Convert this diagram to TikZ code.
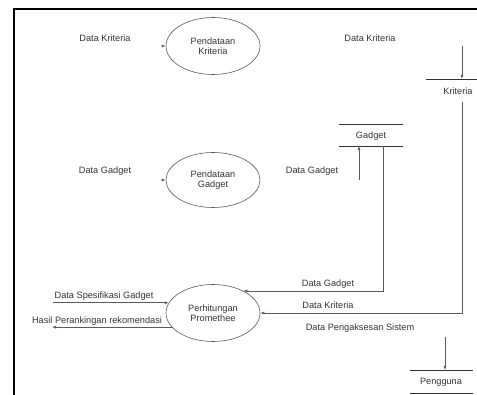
\documentclass[tikz,border=0pt]{standalone}
\usepackage{fontspec}
\setmainfont{Liberation Sans}
\usetikzlibrary{arrows.meta,shapes.geometric}
\definecolor{inkgray}{HTML}{333333}
\definecolor{linegray}{HTML}{5A5A5A}
\begin{document}
\begin{tikzpicture}[x=1pt,y=-1pt,
  every node/.style={font=\fontsize{9.2}{10.5}\selectfont, text=inkgray, inner sep=0pt},
  proc/.style={draw=linegray, line width=0.6pt, ellipse, minimum width=94pt, minimum height=57pt, align=center},
  flow/.style={draw=linegray, line width=0.6pt, -{Latex[length=4pt,width=3pt]}},
  storeline/.style={draw=inkgray, line width=0.6pt},
  lbl/.style={}]
\useasboundingbox (0,0) rectangle (477,395);
% outer frame (left and top edges)
\draw[line width=2pt, black] (14,395) -- (14,9) -- (477,9);

% processes
\node[proc] (p1) at (213,46) {Pendataan\\Kriteria};
\node[proc, minimum height=55pt] (p2) at (213,180) {Pendataan\\Gadget};
\node[proc] (p3) at (213,313) {Perhitungan\\Promethee};

% data stores
\node (kri) at (458,91) {Kriteria};
\draw[storeline] (426,79) -- (477,79);
\node (gad) at (371,136) {Gadget};
\draw[storeline] (339,124) -- (403,124);
\draw[storeline] (339,146) -- (403,146);
\coordinate (gadtop) at (359,146);
\coordinate (gadbot) at (383,146);
\node (usr) at (441,382) {Pengguna};
\draw[storeline] (410,370) -- (473,370);
\draw[storeline] (410,393) -- (473,393);

% labels
\node[lbl] (l1) at (105,38) {Data Kriteria};
\node[lbl] (l2) at (105,171) {Data Gadget};
\node[lbl] (l3) at (370,38) {Data Kriteria};
\node[lbl] (l4) at (312,171) {Data Gadget};
\node[lbl] (l5) at (104,296) {Data Spesifikasi Gadget};
\node[lbl] (l6) at (97,321) {Hasil Perankingan rekomendasi};
\node[lbl] (l7) at (328,284) {Data Gadget};
\node[lbl] (l8) at (328,305) {Data Kriteria};
\node[lbl] (l9) at (360,328) {Data Pengaksesan Sistem};

% flows
\coordinate (a1) at (163,46);
\draw[flow] (a1) -- (p1.west);
\coordinate (a2) at (163,180);
\draw[flow] (a2) -- (p2.west);
\coordinate (k0) at (462,46);
\coordinate (k1) at (462,79);
\draw[flow] (k0) -- (k1);
\coordinate (k2) at (462,102);
\draw[flow] (k2) |- (p3.east);
\coordinate (g0) at (359,180);
\draw[flow] (g0) -- (gadtop);
\draw[flow] (gadbot) |- (p3.36);
\coordinate (s0) at (53,0);
\draw[flow] (p3.167 -| s0) -- (p3.167);
\coordinate (h1) at (52,0);
\draw[flow] (p3.199) -- (p3.199 -| h1);
\coordinate (u0) at (445,337);
\coordinate (u1) at (445,370);
\draw[flow] (u0) -- (u1);
\end{tikzpicture}
\end{document}
